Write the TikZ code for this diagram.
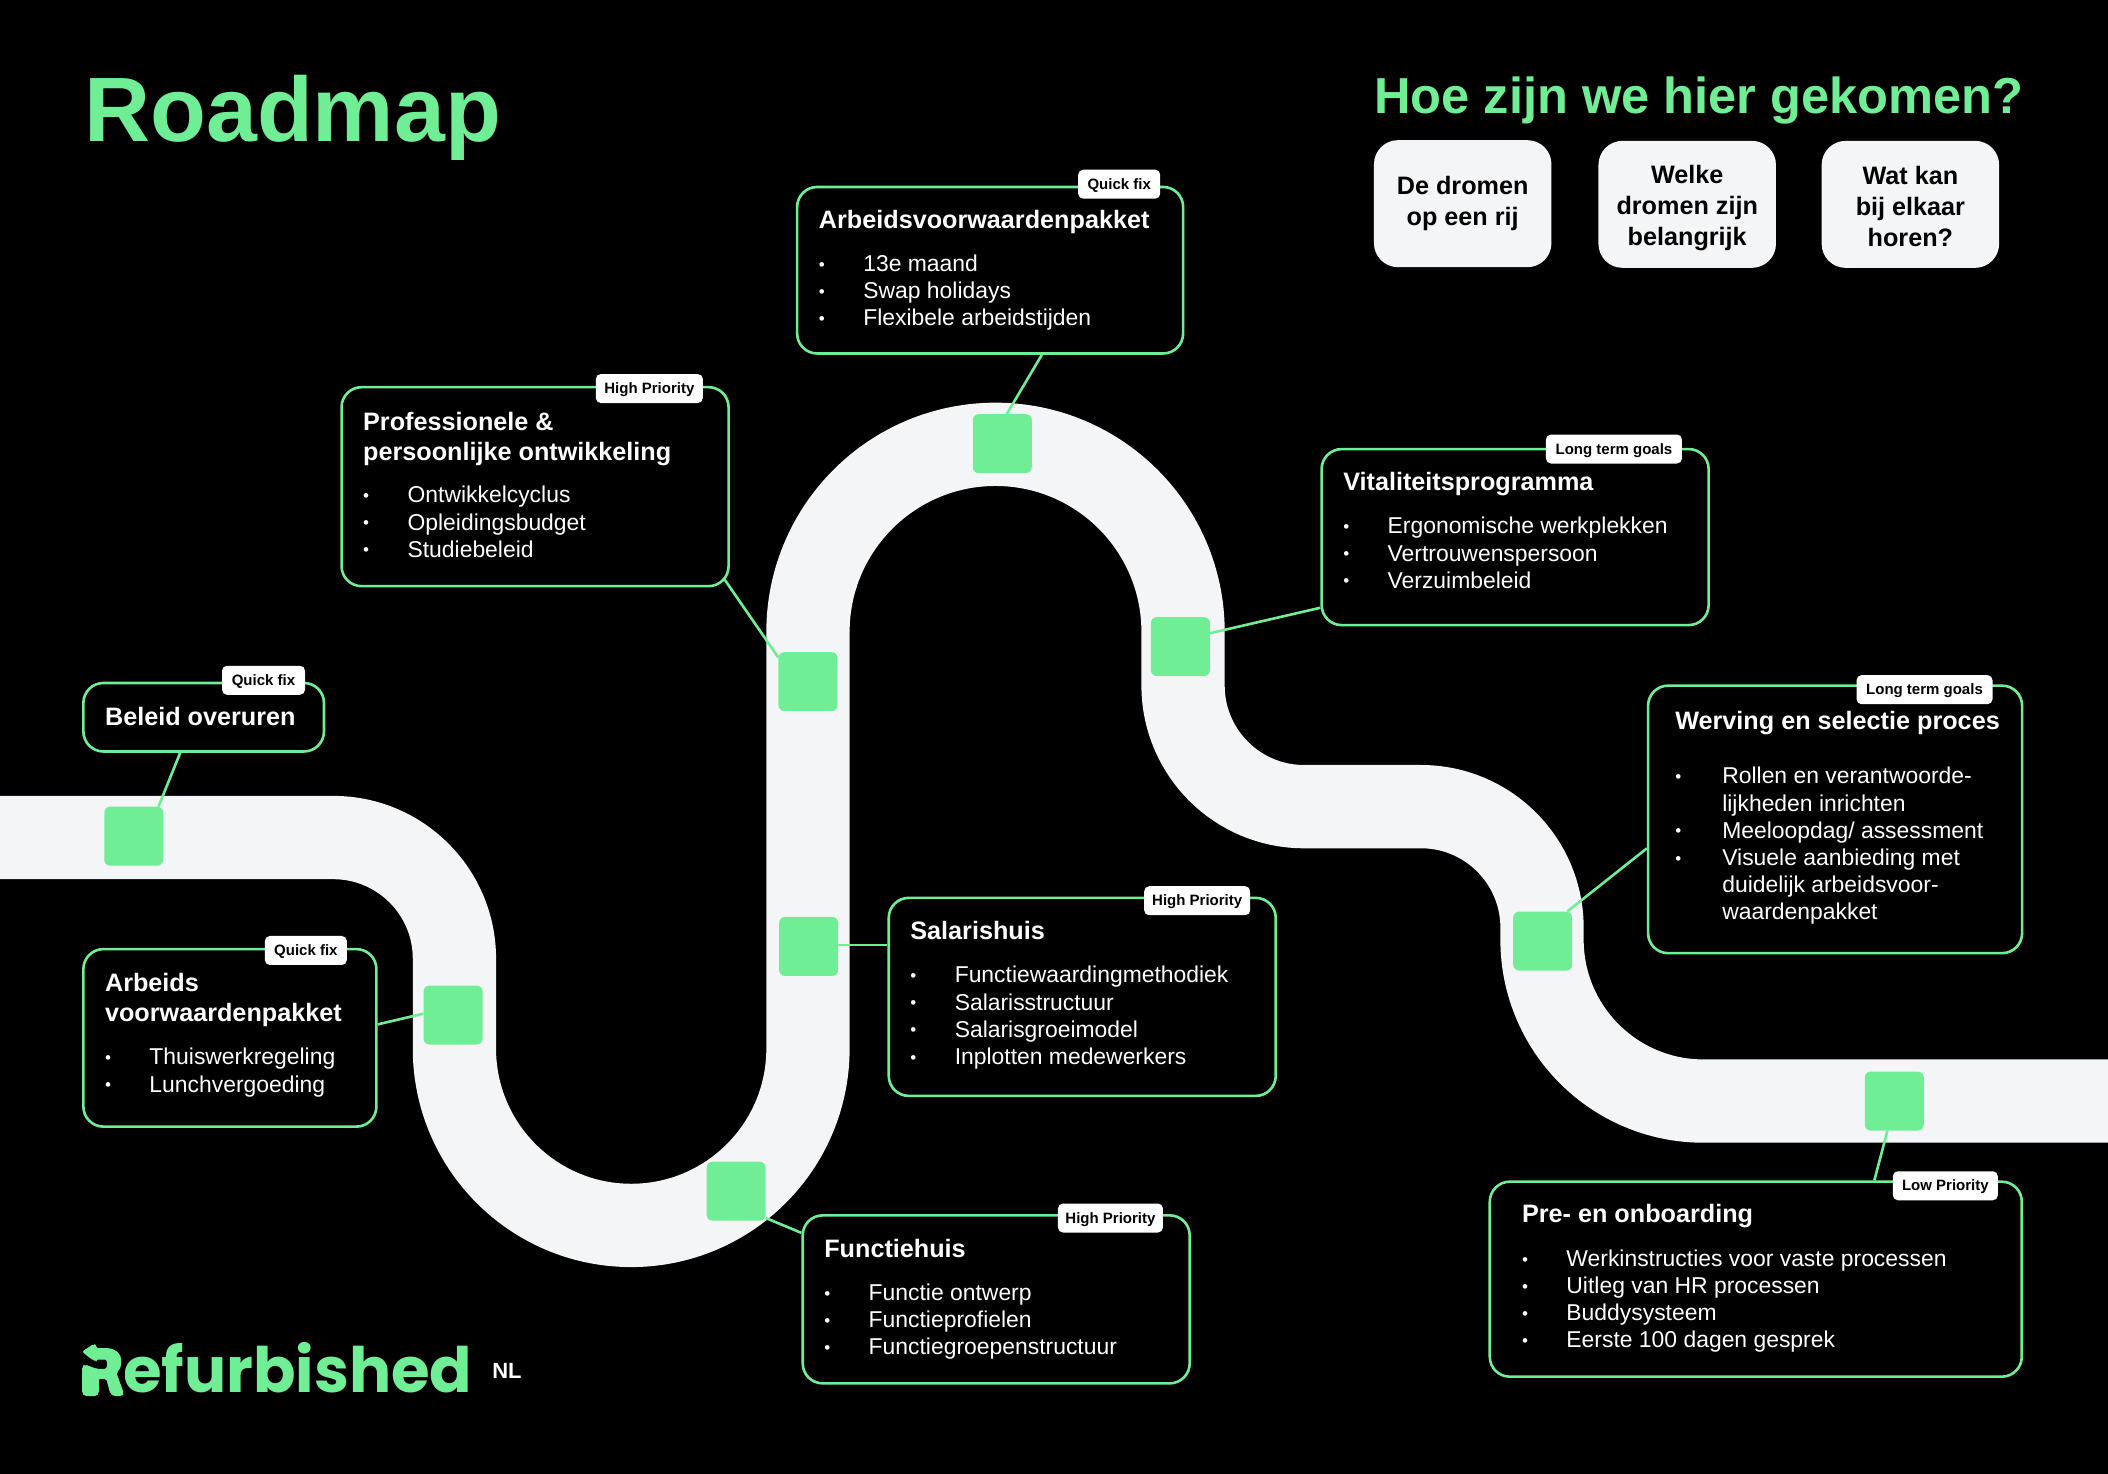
\documentclass[tikz,border=0pt]{standalone}
\usepackage{fontspec}
\usetikzlibrary{calc}
\setmainfont{Liberation Sans}
\newfontfamily\logofont{Poppins}
\definecolor{rgreen}{HTML}{6FEE95}
\definecolor{road}{HTML}{F4F5F7}
\tikzset{
  x=1.34439pt,y=-1.34439pt,
  boxn/.style={draw=rgreen,line width=2.6pt,rounded corners=20pt,fill=black,inner sep=0pt},
  sq/.style={fill=rgreen,rounded corners=6pt,minimum width=59pt,minimum height=59pt,inner sep=0pt},
  tagn/.style={fill=white,rounded corners=5pt,minimum height=29pt,inner sep=0pt,text height=12pt,text depth=2pt,text=black,font=\fontsize{15}{15}\selectfont\bfseries},
  card/.style={fill=road,rounded corners=24pt,minimum width=177.5pt,minimum height=127pt,inner sep=0pt,text=black,align=center,font=\fontsize{25.2}{31}\selectfont\bfseries},
  conn/.style={draw=rgreen,line width=2.6pt},
  tx/.style={inner sep=0pt,anchor=north west,align=left,text=white},
  titlef/.style={font=\fontsize{25.2}{30}\selectfont\bfseries},
  bodyf/.style={font=\fontsize{22.9}{27.1}\selectfont},
}
\newcommand\hs{\rule{0pt}{18pt}}
\newcommand\dotb{{\fontsize{17}{17}\selectfont\raisebox{1.2pt}{•}}}
\newcommand\bl[1]{\makebox[44.4pt][l]{\dotb}#1}
\begin{document}
\begin{tikzpicture}
\useasboundingbox (0,0) rectangle (1568,1096.4);
\fill[black] (0,0) rectangle (1568,1096.4);
% road
\draw[road,line width=83.3pt] (0,623) -- (248,623) arc (-90:0:90) -- (338,780) arc (180:0:131.5) -- (601,470) arc (180:360:139.5) -- (880,510) arc (180:90:90) -- (1057,600) arc (-90:0:90) -- (1147,699) arc (180:90:120) -- (1568,819);
% boxes
\node[boxn,minimum width=240.6pt,minimum height=68.5pt] (beleid) at (151.5,533.5) {};
\node[boxn,minimum width=293pt,minimum height=177.5pt] (arbeids) at (171,772) {};
\node[boxn,minimum width=387pt,minimum height=199pt] (prof) at (398,362) {};
\node[boxn,minimum width=386pt,minimum height=166.5pt] (av) at (736.5,201) {};
\node[boxn,minimum width=387pt,minimum height=176pt] (vital) at (1127,399.5) {};
\node[boxn,minimum width=374pt,minimum height=267.5pt] (werving) at (1365,609.5) {};
\node[boxn,minimum width=387pt,minimum height=198pt] (salaris) at (805,741.5) {};
\node[boxn,minimum width=387pt,minimum height=168pt] (functie) at (741,966.5) {};
\node[boxn,minimum width=532pt,minimum height=195pt] (pre) at (1306,951.5) {};
% squares
\node[sq] (s1) at (99.5,622) {};
\node[sq] (s2) at (337,755) {};
\node[sq] (s3) at (547.5,886) {};
\node[sq] (s4) at (601.5,704) {};
\node[sq] (s5) at (601,507) {};
\node[sq] (s6) at (745.5,330) {};
\node[sq] (s7) at (878,481) {};
\node[sq] (s8) at (1147.5,700) {};
\node[sq] (s9) at (1409,819) {};
% connectors
\coordinate (sa) at ([shift={(0,36)}]salaris.north west);
\draw[conn] ([shift={(73,0)}]beleid.south west) -- ([shift={(40.5,0)}]s1.north west);
\draw[conn] ([shift={(0,-77)}]arbeids.south east) -- ([shift={(0,-1)}]s2.west);
\draw[conn] ([shift={(-4,-6)}]prof.south east) -- ([shift={(0,-18)}]s5.west);
\draw[conn] ([shift={(183,0)}]av.south west) -- ([shift={(25.5,0)}]s6.north west);
\draw[conn] ([shift={(0,119)}]vital.north west) -- ([shift={(0,-10)}]s7.east);
\draw[conn] ([shift={(0,122)}]werving.north west) -- ([shift={(40.5,0)}]s8.north west);
\draw[conn] (sa) -- (sa -| s4.east);
\draw[conn] ([shift={(0,14)}]functie.north west) -- ([shift={(0,20)}]s3.east);
\draw[conn] ([shift={(287,0)}]pre.north west) -- ([shift={(17,0)}]s9.south west);
% tags
\node[tagn,minimum width=83pt] (t1) at (196,506) {Quick fix};
\node[tagn,minimum width=82pt] (t2) at (227.5,707) {Quick fix};
\node[tagn,minimum width=107pt] (t3) at (483,289) {High Priority};
\node[tagn,minimum width=82pt] (t4) at (832.5,137) {Quick fix};
\node[tagn,minimum width=136pt] (t5) at (1200.5,334) {Long term goals};
\node[tagn,minimum width=136pt] (t6) at (1431.5,513) {Long term goals};
\node[tagn,minimum width=106pt] (t7) at (890.5,670) {High Priority};
\node[tagn,minimum width=105pt] (t8) at (826,906) {High Priority};
\node[tagn,minimum width=105pt] (t9) at (1447,882) {Low Priority};
% box text
\node[tx,titlef] (a1) at (78,525.6) {\hs Beleid overuren};
\node[tx,titlef] (a2) at (78,724) {\hs Arbeids\\voorwaardenpakket};
\node[tx,bodyf] (a3) at (78,778.6) {\hs\bl{Thuiswerkregeling}\\\bl{Lunchvergoeding}};
\node[tx,titlef] (b1) at (270,306.3) {\hs Professionele \&\\persoonlijke ontwikkeling};
\node[tx,bodyf] (b2) at (270,360.6) {\hs\bl{Ontwikkelcyclus}\\\bl{Opleidingsbudget}\\\bl{Studiebeleid}};
\node[tx,titlef] (c1) at (609,155.9) {\hs Arbeidsvoorwaardenpakket};
\node[tx,bodyf] (c2) at (609,188.6) {\hs\bl{13e maand}\\\bl{Swap holidays}\\\bl{Flexibele arbeidstijden}};
\node[tx,titlef] (d1) at (999,350.9) {\hs Vitaliteitsprogramma};
\node[tx,bodyf] (d2) at (999,383.6) {\hs\bl{Ergonomische werkplekken}\\\bl{Vertrouwenspersoon}\\\bl{Verzuimbeleid}};
\node[tx,titlef] (e1) at (1246,528.6) {\hs Werving en selectie proces};
\node[tx,bodyf] (e2) at (1246,569.6) {\hs\makebox[47pt][l]{\dotb}Rollen en verantwoorde-\\\hspace*{47pt}lijkheden inrichten\\\makebox[47pt][l]{\dotb}Meeloopdag/ assessment\\\makebox[47pt][l]{\dotb}Visuele aanbieding met\\\hspace*{47pt}duidelijk arbeidsvoor-\\\hspace*{47pt}waardenpakket};
\node[tx,titlef] (f1) at (677,684.9) {\hs Salarishuis};
\node[tx,bodyf] (f2) at (677,717.6) {\hs\bl{Functiewaardingmethodiek}\\\bl{Salarisstructuur}\\\bl{Salarisgroeimodel}\\\bl{Inplotten medewerkers}};
\node[tx,titlef] (g1) at (613,921.9) {\hs Functiehuis};
\node[tx,bodyf] (g2) at (613,953.6) {\hs\bl{Functie ontwerp}\\\bl{Functieprofielen}\\\bl{Functiegroepenstructuur}};
\node[tx,titlef] (h1) at (1132,895.9) {\hs Pre- en onboarding};
\node[tx,bodyf] (h2) at (1132,928.6) {\hs\bl{Werkinstructies voor vaste processen}\\\bl{Uitleg van HR processen}\\\bl{Buddysysteem}\\\bl{Eerste 100 dagen gesprek}};
% headings
\node[tx,text=rgreen,anchor=base west,font=\fontsize{91.5}{91.5}\selectfont\bfseries] (road) at (62.5,105.4) {Roadmap};
\node[tx,text=rgreen,anchor=base west,font=\fontsize{50.6}{51}\selectfont\bfseries] (hoe) at (1022,84.5) {Hoe zijn we hier gekomen?};
% cards
\node[card] (k1) at (1088,151.5) {De dromen\\op een rij};
\node[card] (k2) at (1255,152) {\rule{0pt}{26.4pt}Welke\\dromen zijn\\belangrijk};
\node[card] (k3) at (1421,152) {\rule{0pt}{22pt}Wat kan\\bij elkaar\\horen?};
% logo
\node[tx,text=rgreen,anchor=base west,font=\fontsize{62.6}{63}\selectfont\logofont\bfseries] (logo) at (61,1036) {Refurbished};
\node[tx,text=white,anchor=base west,font=\fontsize{22}{22}\selectfont\bfseries] (nl) at (366,1025) {NL};
\begin{scope}[shift={(52.07,989.3)},x=0.33333pt,y=-0.33333pt]
\fill[black] (25,25) rectangle (166,210);
\path[fill=rgreen,draw=rgreen,line width=1pt,line join=round,rounded corners=2pt]
  (38,65) -- (72,43) -- (78,48) -- (78,56) -- (105,56) .. controls (135,56) and (152,72) .. (152,95)
  .. controls (152,110) and (147,120) .. (137,127) -- (160,190) -- (155,197) -- (132,197) -- (122,190)
  -- (110,145) -- (85,145) -- (85,190) -- (78,197) -- (45,197) -- (38,190) -- (38,110) -- (45,105)
  -- (80,118) -- (100,118) .. controls (108,118) and (113,110) .. (113,102)
  .. controls (113,93) and (108,87) .. (100,87) -- (78,87) -- (78,90) -- (70,90) -- cycle;
\end{scope}
\end{tikzpicture}
\end{document}
